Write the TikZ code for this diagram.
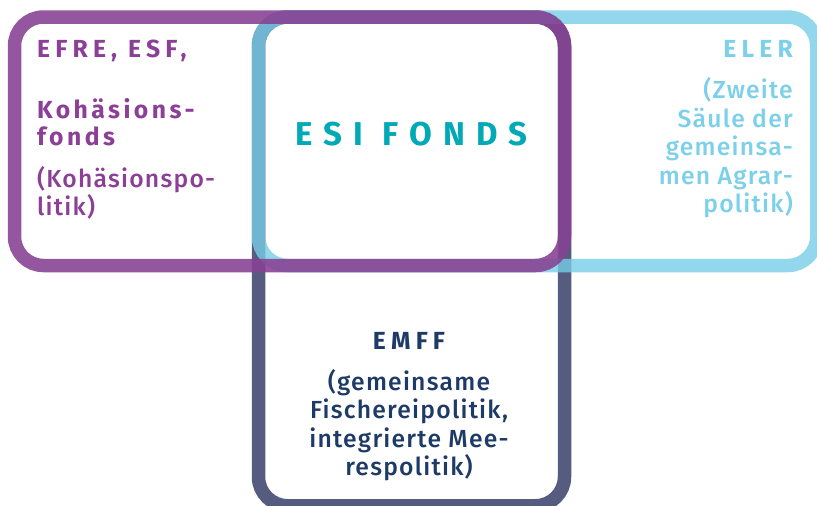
\documentclass[tikz,border=0pt]{standalone}
\usepackage{fontspec}
\setmainfont{Fira Sans}
\newfontfamily\labelfont[LetterSpace=5]{Fira Sans Medium}
\newfontfamily\headfont[LetterSpace=21]{Fira Sans Bold}
\newfontfamily\wordfont[LetterSpace=14]{Fira Sans Bold}
\newfontfamily\titlefont[LetterSpace=34]{Fira Sans Bold}

\definecolor{fundpurple}{HTML}{874294}
\definecolor{fundblue}{HTML}{77CDE7}
\definecolor{fundslate}{HTML}{565C80}
\definecolor{txtpurple}{HTML}{8C3F96}
\definecolor{txtblue}{HTML}{7DD0EA}
\definecolor{txtteal}{HTML}{00A9B6}
\definecolor{txtnavy}{HTML}{1E3A66}

\tikzset{
  fundframe/.style={line width=13.5pt, rounded corners=29pt},
  txt/.style={inner sep=0pt, font=\labelfont\fontsize{24.7}{28}\selectfont},
  txtb/.style={inner sep=0pt, font=\headfont\fontsize{24.7}{28}\selectfont},
  txtw/.style={inner sep=0pt, font=\wordfont\fontsize{24.7}{28}\selectfont},
}

\begin{document}
\begin{tikzpicture}[x=1pt, y=-1pt]
\useasboundingbox (0,0) rectangle (817,506);
\clip (0,0) rectangle (817,506);
\fill[white] (0,0) rectangle (817,506);

% three overlapping fund frames
\draw[fundframe, draw=fundslate] (258.5,17) rectangle (564.5,505.75);
\draw[fundframe, draw=fundblue, draw opacity=0.8] (258.5,17) rectangle (816.75,265.5);
\draw[fundframe, draw=fundpurple, draw opacity=0.89] (14.5,17) rectangle (564.5,265.5);

% left block: cohesion policy
\node[txtb, text=txtpurple, anchor=base west] (efre) at (37,57) {EFRE, ESF,};
\foreach \t/\y [count=\i] in {{Kohäsions-}/118, {fonds}/145}
  \node[txtw, text=txtpurple, anchor=base west] (kohf\i) at (37,\y) {\t};
\foreach \t/\y [count=\i] in {{(Kohäsionspo-}/187, {litik)}/215}
  \node[txt, text=txtpurple, anchor=base west] (efre\i) at (37,\y) {\t};

% right block: rural development
\node[txtb, text=txtblue, anchor=base east] (eler) at (793,57) {ELER};
\foreach \t/\y [count=\i] in {{(Zweite}/98, {Säule der}/127, {gemeinsa-}/155, {men Agrar-}/184, {politik)}/212}
  \node[txt, text=txtblue, anchor=base east] (eler\i) at (793,\y) {\t};

% centre title
\node[inner sep=0pt, text=txtteal, anchor=base,
      font=\titlefont\fontsize{33}{36}\selectfont] (esi) at (411.5,145) {ESI FONDS};

% bottom block: maritime and fisheries
\node[txtb, text=txtnavy, anchor=base] (emff) at (409,349) {EMFF};
\foreach \t/\y [count=\i] in {{(gemeinsame}/390, {Fischereipolitik,}/418, {integrierte Mee-}/447, {respolitik)}/475}
  \node[txt, text=txtnavy, anchor=base] (emff\i) at (409,\y) {\t};
\end{tikzpicture}
\end{document}
